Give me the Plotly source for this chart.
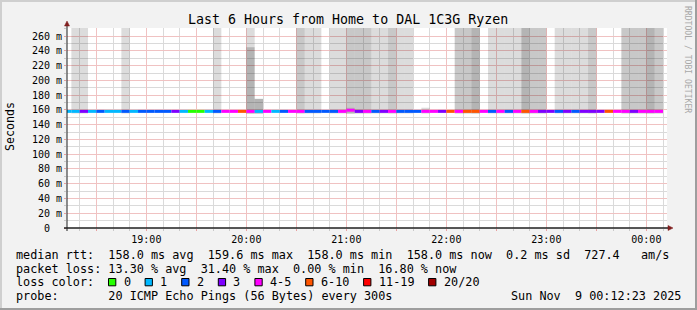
import pandas as pd
import plotly.graph_objects as go

# ---------------- data ----------------
TITLE = "Last 6 Hours from Home to DAL 1C3G Ryzen"
Y_TITLE = "Seconds"
WATERMARK = "RRDTOOL / TOBI OETIKER"
VIEW_START = "2025-11-08 18:12:23"
VIEW_END = "2025-11-09 00:12:23"
FIRST_STEP = "2025-11-08 18:10:00"
STEP_SECONDS = 300

# median rtt per 5-minute step (ms)
median_rtt = [
    158.0, 158.0, 158.0, 158.0, 158.0, 158.0, 158.0, 158.0, 158.0, 158.0,
    158.0, 158.0, 158.0, 158.0, 158.0, 158.0, 158.0, 158.0, 158.0, 158.0,
    158.0, 158.0, 158.0, 158.0, 158.0, 158.0, 158.0, 158.0, 158.0, 158.0,
    158.0, 158.0, 158.0, 158.0, 159.6, 158.0, 158.0, 158.0, 158.0, 158.0,
    158.0, 158.0, 158.0, 158.0, 158.0, 158.0, 158.0, 158.0, 158.0, 158.0,
    158.0, 158.0, 158.0, 158.0, 158.0, 158.0, 158.0, 158.0, 158.0, 158.0,
    158.0, 158.0, 158.0, 158.0, 158.0, 158.0, 158.0, 158.0, 158.0, 158.0,
    158.0, 158.0,
]
# lost pings (of 20) per step
loss_pings = [
    1, 1, 3, 1, 2, 1, 1, 2, 1, 2,
    2, 2, 2, 3, 1, 0, 0, 1, 2, 4,
    4, 6, 4, 1, 4, 1, 2, 4, 4, 2,
    2, 2, 2, 4, 4, 3, 4, 2, 3, 4,
    2, 2, 2, 4, 4, 3, 6, 4, 6, 6,
    4, 2, 4, 2, 4, 6, 4, 3, 3, 2,
    3, 2, 3, 3, 3, 6, 4, 4, 3, 4,
    4, 4,
]
# smoke: lowest ping (ms), inner band top + density, outer band top + density
smoke_floor = 155.0
smoke_inner_top = [
    None, 300, 300, None, None, None, None, 300, None, None,
    None, None, None, None, None, None, None, None, 300, None,
    None, None, 245, 175, None, None, None, None, 300, 300,
    300, None, 300, 300, 163, 300, 300, 300, 300, 300,
    300, 300, None, 163, None, None, None, 300, 300, 300,
    None, 300, 300, 300, 300, 300, 300, 300, None, 300,
    300, 300, 300, 300, None, None, None, 300, 300, 300,
    300, 300,
]
smoke_inner_density = [
    0, 1, 1, 0, 0, 0, 0, 1, 0, 0,
    0, 0, 0, 0, 0, 0, 0, 0, 1, 0,
    0, 0, 3, 3, 0, 0, 0, 0, 2, 1,
    1, 0, 1, 1, 3, 2, 2, 1, 1, 2,
    1, 1, 0, 1, 0, 0, 0, 2, 2, 3,
    0, 1, 1, 1, 1, 3, 2, 2, 0, 1,
    1, 1, 1, 2, 0, 0, 0, 2, 2, 2,
    3, 2,
]
smoke_outer_top = [None] * 22 + [300] + [None] * 11 + [300] + [None] * 37
smoke_outer_density = [0] * 22 + [1] + [0] * 11 + [2] + [0] * 37

LOSS_LABELS = ["0", "1", "2", "3", "4-5", "6-10", "11-19", "20/20"]
LOSS_UPPER = [0, 1, 2, 3, 5, 10, 19, 20]
LOSS_COLORS = ["#26ff00", "#00b8ff", "#0059ff", "#7e00ff",
               "#ff00ff", "#ff5500", "#ff0000", "#a10000"]

Y_TICK_VALUES = [0, 20, 40, 60, 80, 100, 120, 140, 160, 180, 200, 220, 240, 260]
Y_TICK_LABELS = ["0", "20 m", "40 m", "60 m", "80 m", "100 m", "120 m", "140 m",
                 "160 m", "180 m", "200 m", "220 m", "240 m", "260 m"]
X_TICK_TIMES = ["2025-11-08 18:30", "2025-11-08 19:00", "2025-11-08 19:30",
                "2025-11-08 20:00", "2025-11-08 20:30", "2025-11-08 21:00",
                "2025-11-08 21:30", "2025-11-08 22:00", "2025-11-08 22:30",
                "2025-11-08 23:00", "2025-11-08 23:30", "2025-11-09 00:00"]
X_TICK_LABELS = ["", "19:00", "", "20:00", "", "21:00", "", "22:00", "",
                 "23:00", "", "00:00"]

LINE_RTT = "median rtt:  158.0 ms avg  159.6 ms max  158.0 ms min  158.0 ms now  0.2 ms sd  727.4   am/s"
LINE_LOSS = "packet loss: 13.30 % avg  31.40 % max  0.00 % min  16.80 % now"
LINE_COLOR = "loss color:"
LINE_PROBE = "probe:       20 ICMP Echo Pings (56 Bytes) every 300s"
STAMP = "Sun Nov  9 00:12:23 2025"

# ---------------- layout constants ----------------
W, H = 697, 310
L, R, T, B = 67, 30, 28, 82
PW, PH = W - L - R, H - T - B
Y_MAX = 271
MONO = "DejaVu Sans Mono"
BACK = "#f2f2f2"
GRID = "#dadada"
MGRID = "#f0c2c2"
MTICK = "#e8a0a0"
AXIS = "#1f1f1f"
ARROW = "#801f1f"
SHADES = {1: "rgba(0,0,0,0.137)", 2: "rgba(0,0,0,0.216)", 3: "rgba(0,0,0,0.294)"}
LINE_THICK = 4.0  # ms (about 3 px)
CHAR_W = 7.1


def pxx(x):
    return (x - L) / PW


def pxy(y):
    return (T + PH - y) / PH


def loss_color(n):
    for upper, c in zip(LOSS_UPPER, LOSS_COLORS):
        if n <= upper:
            return c
    return LOSS_COLORS[-1]


times = pd.date_range(FIRST_STEP, periods=len(median_rtt), freq=f"{STEP_SECONDS}s")
width_ms = STEP_SECONDS * 1000

fig = go.Figure()

# inner smoke band
fig.add_trace(go.Bar(
    x=times,
    base=[smoke_floor if t is not None else None for t in smoke_inner_top],
    y=[(t - smoke_floor) if t is not None else None for t in smoke_inner_top],
    width=width_ms, offset=0,
    marker=dict(color=[SHADES.get(d, "rgba(0,0,0,0)") for d in smoke_inner_density],
                line=dict(width=0)),
    hoverinfo="skip",
))
# outer smoke band
fig.add_trace(go.Bar(
    x=times,
    base=[i if o is not None else None for i, o in zip(smoke_inner_top, smoke_outer_top)],
    y=[(o - i) if o is not None else None for i, o in zip(smoke_inner_top, smoke_outer_top)],
    width=width_ms, offset=0,
    marker=dict(color=[SHADES.get(d, "rgba(0,0,0,0)") for d in smoke_outer_density],
                line=dict(width=0)),
    hoverinfo="skip",
))
# median line coloured by loss
fig.add_trace(go.Bar(
    x=times,
    base=[m - LINE_THICK / 2 for m in median_rtt],
    y=[LINE_THICK] * len(median_rtt),
    width=width_ms, offset=0,
    marker=dict(color=[loss_color(n) for n in loss_pings], line=dict(width=0)),
    hoverinfo="skip",
))


def ann(text, x, y, size, xanchor="left", color="#000000", angle=0, yanchor="middle"):
    return dict(text=text.replace(" ", "\u00a0"), x=pxx(x), y=pxy(y),
                xref="paper", yref="paper", xanchor=xanchor, yanchor=yanchor,
                showarrow=False, textangle=angle, borderpad=0, borderwidth=0,
                font=dict(family=MONO, size=size, color=color))


annotations = [
    ann(TITLE, 348, 19, 13.3, xanchor="center"),
    ann(Y_TITLE, 10, 127, 11.6, xanchor="center", angle=-90),
    ann(WATERMARK, 688, 59, 8.1, xanchor="center", color="#a8a8a8", angle=90),
    ann(LINE_RTT, 16, 254.5, 11.8),
    ann(LINE_LOSS, 16, 268.5, 11.8),
    ann(LINE_COLOR, 16, 282.3, 11.8),
    ann(LINE_PROBE, 16, 296, 11.8),
    ann(STAMP, 681, 296, 11.8, xanchor="right"),
]

shapes = []
# legend boxes
bx = 108.5
for lab, col in zip(LOSS_LABELS, LOSS_COLORS):
    shapes.append(dict(type="rect", xref="paper", yref="paper",
                       x0=pxx(bx), x1=pxx(bx + 7.3), y0=pxy(278.5), y1=pxy(285.8),
                       fillcolor=col, line=dict(color="#000000", width=1), layer="above"))
    annotations.append(ann(lab, bx + 15, 282.3, 11.8))
    bx = bx + 15 + len(lab) * CHAR_W + 14.5

# axes lines + arrows
shapes += [
    dict(type="line", xref="paper", yref="paper", x0=pxx(64), x1=pxx(669),
         y0=pxy(228), y1=pxy(228), line=dict(color=AXIS, width=1.3)),
    dict(type="line", xref="paper", yref="paper", x0=pxx(67), x1=pxx(67),
         y0=pxy(231), y1=pxy(24), line=dict(color=AXIS, width=1)),
    dict(type="path", xref="paper", yref="paper",
         path=f"M {pxx(668)},{pxy(225.5)} L {pxx(673)},{pxy(228)} L {pxx(668)},{pxy(230.5)} Z",
         fillcolor=ARROW, line=dict(color=ARROW, width=0.5)),
    dict(type="path", xref="paper", yref="paper",
         path=f"M {pxx(64.5)},{pxy(26)} L {pxx(67)},{pxy(21)} L {pxx(69.5)},{pxy(26)} Z",
         fillcolor=ARROW, line=dict(color=ARROW, width=0.5)),
    # 3d frame
    dict(type="rect", xref="paper", yref="paper", x0=pxx(0), x1=pxx(W), y0=pxy(0), y1=pxy(2),
         fillcolor="#cfcfcf", line=dict(width=0), layer="below"),
    dict(type="rect", xref="paper", yref="paper", x0=pxx(0), x1=pxx(2), y0=pxy(0), y1=pxy(H),
         fillcolor="#cfcfcf", line=dict(width=0), layer="below"),
    dict(type="rect", xref="paper", yref="paper", x0=pxx(0), x1=pxx(W), y0=pxy(H - 2), y1=pxy(H),
         fillcolor="#9e9e9e", line=dict(width=0), layer="below"),
    dict(type="rect", xref="paper", yref="paper", x0=pxx(W - 2), x1=pxx(W), y0=pxy(0), y1=pxy(H),
         fillcolor="#9e9e9e", line=dict(width=0), layer="below"),
]

y_ticktext = [lab.replace(" ", "\u00a0") if " " in lab else lab + "\u00a0\u00a0"
              for lab in Y_TICK_LABELS]

fig.update_layout(
    width=W, height=H,
    margin=dict(l=L, r=R, t=T, b=B, pad=0),
    paper_bgcolor=BACK, plot_bgcolor="#ffffff",
    barmode="overlay", showlegend=False,
    annotations=annotations, shapes=shapes,
    xaxis=dict(
        type="date", range=[VIEW_START, VIEW_END],
        tickmode="array", tickvals=X_TICK_TIMES, ticktext=X_TICK_LABELS,
        showgrid=True, gridcolor=MGRID, gridwidth=1,
        ticks="outside", ticklen=2, tickcolor=MTICK,
        minor=dict(dtick=600000, tick0="2025-11-08 18:00:00", showgrid=True,
                   gridcolor=GRID, gridwidth=1, ticks="outside",
                   ticklen=2, tickcolor="#c8c8c8"),
        zeroline=False, showline=False, fixedrange=True,
        tickfont=dict(family=MONO, size=10, color="#000000"),
    ),
    yaxis=dict(
        range=[0, Y_MAX], tickmode="array", tickvals=Y_TICK_VALUES,
        ticktext=y_ticktext,
        showgrid=True, gridcolor=MGRID, gridwidth=1,
        ticks="outside", ticklen=2, tickcolor=MTICK,
        minor=dict(dtick=10, tick0=0, showgrid=True, gridcolor=GRID, gridwidth=1,
                   ticks="outside", ticklen=2, tickcolor="#c8c8c8"),
        zeroline=False, showline=False, fixedrange=True,
        tickfont=dict(family=MONO, size=10, color="#000000"),
    ),
)

fig.write_html("out.html")
